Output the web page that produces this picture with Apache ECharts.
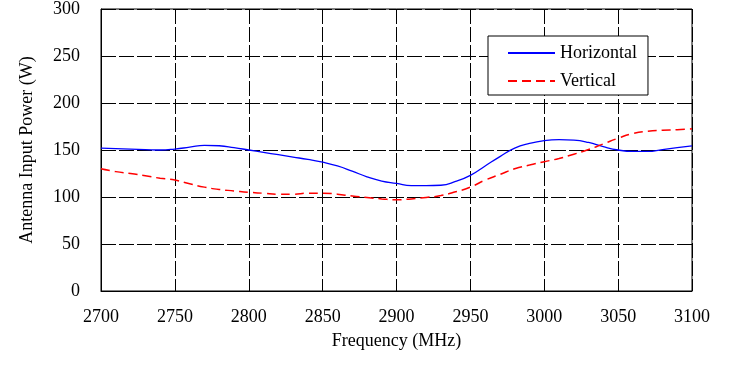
<!DOCTYPE html>
<html>
<head>
<meta charset="utf-8">
<script src="https://cdn.jsdelivr.net/npm/echarts@6/dist/echarts.min.js"></script>
<style>
    html, body { margin: 0; padding: 0; background: #fff; }
    #chart { width: 740px; height: 376px; }
</style>
</head>
<body>
<div id="chart"></div>
<script>
// frequency points (MHz)
var freq = [2700, 2710, 2720, 2730, 2740, 2750, 2760, 2770, 2780, 2790,
            2800, 2810, 2820, 2830, 2840, 2850, 2860, 2870, 2880, 2890,
            2900, 2910, 2920, 2930, 2940, 2950, 2960, 2970, 2980, 2990,
            3000, 3010, 3020, 3030, 3040, 3050, 3060, 3070, 3080, 3090, 3100];

// antenna input power (W)
var horizontal = [152, 151.5, 151, 150.5, 150, 151, 153, 155, 154.5, 152.5,
                  150, 147.5, 145, 142.5, 140, 137, 133, 127.5, 121.5, 117,
                  114.5, 112, 112, 112.5, 116.5, 123, 133, 143, 152, 157,
                  160, 161, 160.5, 158, 153.5, 150, 148.5, 148.5, 150.5, 152.5, 154.5];

var vertical = [130, 127, 125, 122.5, 120, 118, 114, 110.5, 108, 106.5,
                105, 104, 103, 103, 104, 104, 103, 101, 99.5, 98,
                97, 98, 99.5, 101.5, 105.5, 110.5, 118, 124, 130, 134,
                137.5, 141, 145.5, 150.5, 156.5, 162.5, 167.5, 170, 171, 171.5, 172.5];

var seriesNames = ['Horizontal', 'Vertical'];

var font = '"Liberation Serif", "DejaVu Serif", serif';

var pairs = function (ys) {
    var out = [];
    for (var i = 0; i < freq.length; i++) {
        out.push([freq[i], ys[i]]);
    }
    return out;
};

var gridLine = {
    show: true,
    lineStyle: { color: '#000', width: 1, type: [15, 3] }
};

var myChart = echarts.init(document.getElementById('chart'));

myChart.setOption({
    animation: false,
    backgroundColor: '#fff',
    textStyle: { fontFamily: font, color: '#000' },
    grid: {
        left: 101,
        right: 48,
        top: 9,
        bottom: 85,
        show: true,
        borderColor: '#000',
        borderWidth: 1
    },
    legend: {
        data: seriesNames,
        orient: 'vertical',
        left: 488,
        top: 36,
        padding: [8, 11, 5, 19],
        itemWidth: 47,
        itemHeight: 14,
        itemGap: 10,
        itemStyle: { opacity: 0 },
        backgroundColor: '#fff',
        borderColor: '#000',
        borderWidth: 1,
        textStyle: { fontFamily: font, fontSize: 18, color: '#000', lineHeight: 18 }
    },
    xAxis: {
        type: 'value',
        min: 2700,
        max: 3100,
        interval: 50,
        name: 'Frequency (MHz)',
        nameLocation: 'middle',
        nameGap: 41,
        nameTextStyle: { fontFamily: font, fontSize: 18, color: '#000' },
        axisLine: { lineStyle: { color: '#000', width: 1 } },
        axisTick: { show: false },
        axisLabel: {
            fontFamily: font, fontSize: 18, color: '#000', margin: 17,
            formatter: function (v) { return String(v); }
        },
        splitLine: gridLine
    },
    yAxis: {
        type: 'value',
        min: 0,
        max: 300,
        interval: 50,
        name: 'Antenna Input Power (W)',
        nameLocation: 'middle',
        nameGap: 65,
        nameTextStyle: { fontFamily: font, fontSize: 18, color: '#000' },
        axisLine: { show: true, lineStyle: { color: '#000', width: 1 } },
        axisTick: { show: false },
        axisLabel: { fontFamily: font, fontSize: 18, color: '#000', margin: 21 },
        splitLine: gridLine
    },
    series: [{
        name: seriesNames[0],
        type: 'line',
        smooth: true,
        symbol: 'none',
        data: pairs(horizontal),
        itemStyle: { color: '#0000ff' },
        lineStyle: { color: '#0000ff', width: 1.3 }
    }, {
        name: seriesNames[1],
        type: 'line',
        smooth: true,
        symbol: 'none',
        data: pairs(vertical),
        itemStyle: { color: '#ff0000' },
        lineStyle: { color: '#ff0000', width: 1.5, type: [9, 5] }
    }]
});
</script>
</body>
</html>
